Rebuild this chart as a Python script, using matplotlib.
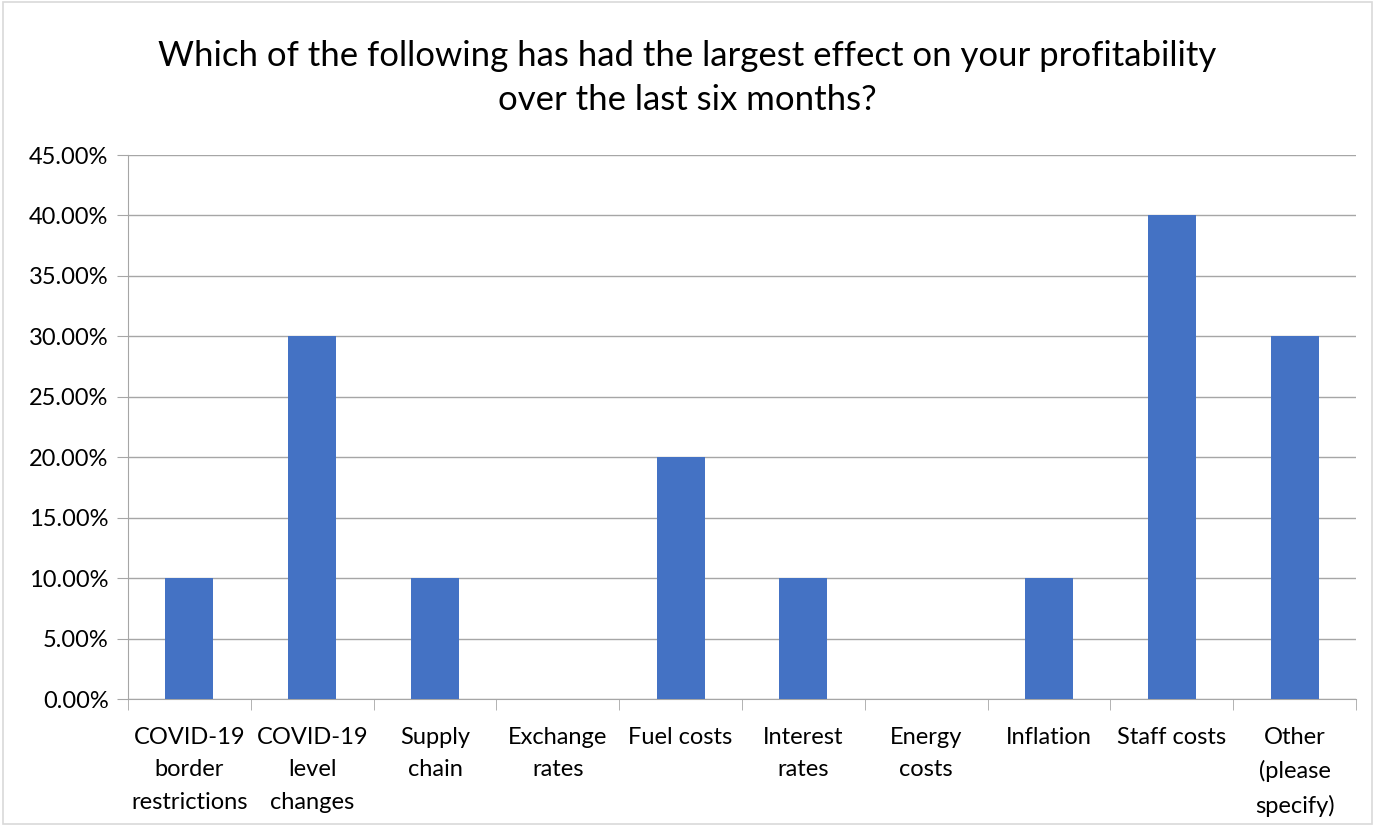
import numpy as np
import matplotlib.pyplot as plt
from matplotlib.patches import Rectangle
from matplotlib.ticker import PercentFormatter

categories = ["COVID-19\nborder\nrestrictions", "COVID-19\nlevel\nchanges", "Supply\nchain",
              "Exchange\nrates", "Fuel costs", "Interest\nrates", "Energy\ncosts",
              "Inflation", "Staff costs", "Other\n(please\nspecify)"]
values = [10, 30, 10, 0, 20, 10, 0, 10, 40, 30]

plt.rcParams['font.family'] = ['Lato', 'DejaVu Sans']

fig = plt.figure(figsize=(13.75, 8.26), dpi=100)
ax = fig.add_axes([128/1375, 1-699/826, (1356-128)/1375, (699-155)/826])

x = np.arange(len(categories))
ax.bar(x, values, width=0.39, color="#4472C4", zorder=3)

ax.set_xlim(-0.5, len(categories) - 0.5)
ax.set_ylim(0, 45)
ax.set_yticks(np.arange(0, 46, 5))
ax.yaxis.set_major_formatter(PercentFormatter(decimals=2))
ax.grid(axis="y", color="#A6A6A6", linewidth=1, zorder=0)

ax.set_xticks(x)
ax.set_xticklabels(categories, fontsize=17, linespacing=1.68, va="top")
ax.set_xticks(np.arange(-0.5, len(categories)), minor=True)
ax.tick_params(axis="x", which="major", length=0, pad=20)
ax.tick_params(axis="x", which="minor", length=8, color="#A6A6A6")
ax.tick_params(axis="y", length=8, color="#A6A6A6", labelsize=17, pad=6)

for s in ["top", "right"]:
    ax.spines[s].set_visible(False)
for s in ["left", "bottom"]:
    ax.spines[s].set_color("#A6A6A6")

fig.text(0.5, 1-78/826, "Which of the following has had the largest effect on your profitability\nover the last six months?",
         ha="center", va="center", fontsize=25, linespacing=1.5)

fig.patches.append(Rectangle((0.002, 0.002), 0.996, 0.996, transform=fig.transFigure,
                             fill=False, edgecolor="#D9D9D9", linewidth=1.2))

fig.savefig("out.png", dpi=100)
